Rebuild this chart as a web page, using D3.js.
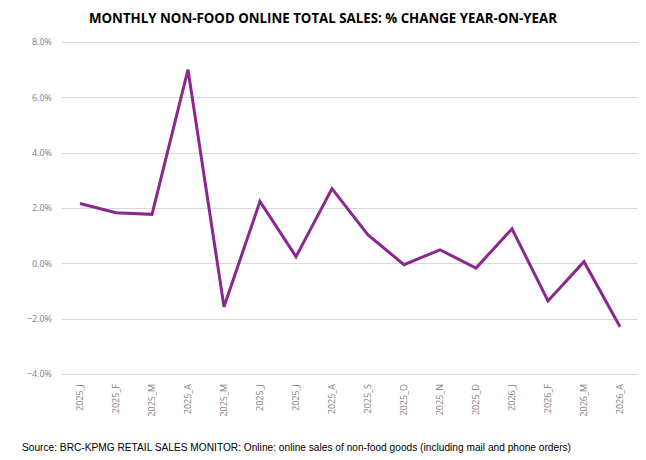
<!DOCTYPE html>
<html>
<head>
<meta charset="utf-8">
<script src="https://cdn.jsdelivr.net/npm/d3@7"></script>
<style>
  body { margin: 0; background: #fff; }
  svg { display: block; }
  .title { font-family: "Open Sans", sans-serif; font-weight: bold; font-size: 15px; fill: #000; }
  .axis text { font-family: "Open Sans", sans-serif; font-size: 9px; fill: #808080; }
  .source { font-family: "Liberation Sans", sans-serif; font-size: 10px; fill: #000; }
</style>
</head>
<body>
<script>
// chart data
var months = ['2025_J', '2025_F', '2025_M', '2025_A', '2025_M', '2025_J', '2025_J', '2025_A',
    '2025_S', '2025_O', '2025_N', '2025_D', '2026_J', '2026_F', '2026_M', '2026_A'];
var salesChange = [2.16, 1.83, 1.77, 7.0, -1.57, 2.24, 0.24, 2.7,
    1.03, -0.05, 0.49, -0.17, 1.25, -1.36, 0.06, -2.29];
var yTicks = [-4, -2, 0, 2, 4, 6, 8];

window.onload = function () {
    var w = 646,
        h = 460;
    var margin = { top: 42, right: 8, bottom: 86, left: 62 };

    var svg = d3.select('body')
        .append('svg')
        .attr('width', w)
        .attr('height', h);

    // index-based band scale, since month labels repeat
    var x = d3.scaleBand()
        .domain(d3.range(months.length))
        .range([margin.left, w - margin.right]);

    var y = d3.scaleLinear()
        .domain([-4, 8])
        .range([h - margin.bottom, margin.top]);

    // gridlines
    svg.append('g')
        .selectAll('line')
        .data(yTicks)
        .enter()
        .append('line')
        .attr('x1', margin.left)
        .attr('x2', w - margin.right)
        .attr('y1', function (d) { return Math.round(y(d)) + 0.5; })
        .attr('y2', function (d) { return Math.round(y(d)) + 0.5; })
        .style('stroke', '#d9d9d9')
        .style('stroke-width', 1);

    // y axis labels
    var yAxis = d3.axisLeft(y)
        .tickValues(yTicks)
        .tickSize(0)
        .tickPadding(10)
        .tickFormat(function (d) { return d3.format('.1f')(d) + '%'; });

    svg.append('g')
        .attr('class', 'axis')
        .attr('transform', 'translate(' + margin.left + ',0)')
        .call(yAxis)
        .call(function (g) { g.select('.domain').remove(); });

    // x axis labels, rotated
    var xAxis = d3.axisBottom(x)
        .tickSize(0)
        .tickFormat(function (i) { return months[i]; });

    var xg = svg.append('g')
        .attr('class', 'axis')
        .attr('transform', 'translate(0,' + (h - margin.bottom) + ')')
        .call(xAxis);
    xg.select('.domain').remove();
    xg.selectAll('text')
        .attr('transform', 'rotate(-90)')
        .attr('text-anchor', 'end')
        .attr('x', -10)
        .attr('y', 0)
        .attr('dy', '0.32em');

    // the line
    var line = d3.line()
        .x(function (d, i) { return x(i) + x.bandwidth() / 2; })
        .y(function (d) { return y(d); });

    svg.append('path')
        .datum(salesChange)
        .attr('d', line)
        .style('fill', 'none')
        .style('stroke', '#8b2890')
        .style('stroke-width', 3)
        .style('stroke-linejoin', 'miter');

    // title is a condensed face in the original, so squeeze it to width
    svg.append('text')
        .attr('class', 'title')
        .attr('text-anchor', 'middle')
        .attr('x', 323)
        .attr('y', 23)
        .attr('textLength', 468)
        .attr('lengthAdjust', 'spacingAndGlyphs')
        .text('MONTHLY NON-FOOD ONLINE TOTAL SALES: % CHANGE YEAR-ON-YEAR');

    svg.append('text')
        .attr('class', 'source')
        .attr('x', 22)
        .attr('y', 451)
        .attr('textLength', 549)
        .attr('lengthAdjust', 'spacingAndGlyphs')
        .text('Source: BRC-KPMG RETAIL SALES MONITOR: Online: online sales of non-food goods (including mail and phone orders)');
};
</script>
</body>
</html>
